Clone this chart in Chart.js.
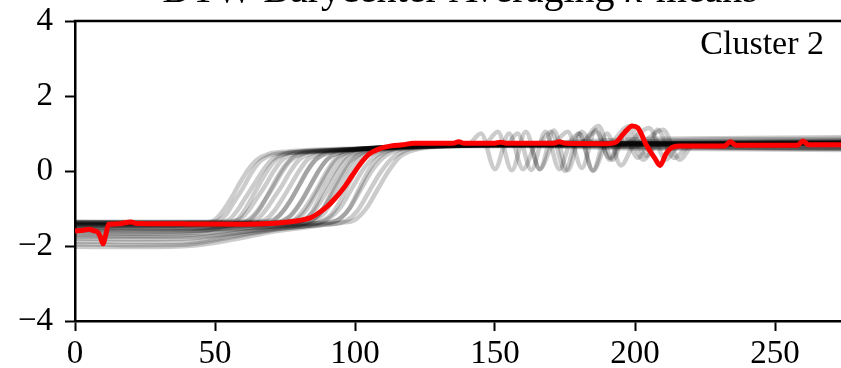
<!DOCTYPE html>
<html><head><meta charset="utf-8">
<script src="https://cdn.jsdelivr.net/npm/chart.js@4/dist/chart.umd.min.js"></script>
<style>
html,body{margin:0;padding:0;background:#fff;overflow:hidden;width:841px;height:368px;}
#wrap{position:absolute;left:0;top:-30px;width:880px;height:400px;}
</style></head><body>
<div id="wrap"><canvas id="c" width="880" height="400"></canvas></div>
<script>
// ---- texts ----
const titleParts = [["DTW Barycenter Averaging ", false], ["k", true], ["-means", false]];
const clusterLabel = "Cluster 2";
// ---- tick labels ----
const xTicks = [0, 50, 100, 150, 200, 250];
const yTicks = [-4, -2, 0, 2, 4];
const xRange = [0, 275];
const yRange = [-4, 4];
// ---- member series (x, y) ----
const g01 = [[0,-1.38],[20,-1.40],[40,-1.37],[50,-1.35],[54,-1.15],[57,-0.8],[60,-0.45],[63,-0.05],[66,0.25],[70,0.42],[75,0.48],[90,0.55],[110,0.63],[130,0.68],[160,0.72],[200,0.74],[240,0.76],[274,0.78]];
const g02 = [[0,-1.42],[25,-1.43],[48,-1.40],[55,-1.30],[58,-1.05],[61,-0.7],[64,-0.35],[67,0.0],[70,0.28],[74,0.44],[80,0.5],[100,0.58],[120,0.65],[150,0.7],[190,0.73],[230,0.72],[274,0.74]];
const g03 = [[0,-1.36],[30,-1.38],[52,-1.37],[59,-1.28],[62,-1.05],[65,-0.72],[68,-0.38],[71,0.0],[74,0.3],[78,0.46],[85,0.52],[105,0.6],[125,0.67],[146,0.7],[151,1.05],[156,0.02],[161,1.05],[166,0.05],[171,0.7],[200,0.74],[240,0.72],[274,0.75]];
const g04 = [[0,-1.45],[30,-1.46],[55,-1.42],[62,-1.30],[65,-1.08],[68,-0.75],[71,-0.4],[74,-0.02],[77,0.28],[81,0.45],[88,0.52],[110,0.6],[130,0.66],[160,0.7],[200,0.66],[240,0.63],[274,0.62]];
const g05 = [[0,-1.40],[35,-1.42],[58,-1.40],[65,-1.30],[68,-1.05],[71,-0.72],[74,-0.38],[77,0.0],[80,0.3],[84,0.46],[92,0.54],[115,0.63],[140,0.7],[154,0.7],[158,1.0],[163,0.03],[168,1.05],[173,0.05],[177,0.7],[210,0.75],[250,0.78],[274,0.8]];
const g06 = [[0,-1.50],[30,-1.52],[50,-1.50],[62,-1.40],[68,-1.30],[71,-1.08],[74,-0.75],[77,-0.38],[80,0.0],[83,0.3],[87,0.46],[95,0.55],[120,0.65],[150,0.72],[190,0.74],[230,0.74],[274,0.76]];
const g07 = [[0,-1.38],[30,-1.37],[60,-1.38],[70,-1.32],[74,-1.1],[77,-0.78],[80,-0.4],[83,0.0],[86,0.3],[90,0.47],[98,0.56],[120,0.66],[150,0.7],[162,0.72],[166,0.05],[171,1.08],[176,0.02],[181,1.05],[185,0.7],[220,0.72],[274,0.74]];
const g08 = [[0,-1.60],[20,-1.62],[40,-1.60],[60,-1.48],[72,-1.38],[77,-1.2],[81,-0.8],[84,-0.4],[87,0.0],[90,0.3],[94,0.48],[102,0.58],[125,0.67],[160,0.72],[200,0.74],[240,0.73],[274,0.75]];
const g09 = [[0,-1.42],[40,-1.42],[70,-1.40],[78,-1.32],[81,-1.1],[84,-0.78],[87,-0.4],[90,0.0],[93,0.32],[97,0.5],[105,0.6],[130,0.68],[170,0.7],[176,1.05],[181,0.08],[186,1.1],[191,0.3],[195,0.7],[230,0.72],[274,0.73]];
const g10 = [[0,-1.70],[20,-1.72],[40,-1.70],[60,-1.55],[76,-1.42],[82,-1.3],[85,-1.05],[88,-0.6],[91,-0.2],[94,0.15],[97,0.4],[102,0.55],[115,0.64],[140,0.7],[180,0.72],[220,0.75],[274,0.77]];
const g11 = [[0,-1.36],[40,-1.38],[75,-1.38],[82,-1.3],[85,-1.1],[88,-0.78],[91,-0.4],[94,0.0],[97,0.32],[101,0.5],[110,0.62],[135,0.7],[180,0.7],[187,1.2],[192,0.3],[197,1.1],[203,0.3],[208,0.7],[240,0.74],[274,0.76]];
const g12 = [[0,-1.80],[20,-1.82],[40,-1.80],[55,-1.68],[70,-1.52],[82,-1.40],[87,-1.18],[90,-0.85],[93,-0.45],[96,-0.05],[99,0.28],[103,0.48],[112,0.6],[135,0.68],[170,0.7],[210,0.72],[274,0.74]];
const g13 = [[0,-1.45],[40,-1.44],[78,-1.42],[85,-1.35],[89,-1.12],[92,-0.8],[95,-0.42],[98,-0.02],[101,0.3],[105,0.5],[114,0.62],[140,0.7],[190,0.7],[198,1.2],[204,0.4],[208,1.1],[214,0.35],[220,0.7],[250,0.72],[274,0.74]];
const g14 = [[0,-1.95],[20,-1.98],[38,-1.97],[55,-1.78],[70,-1.58],[85,-1.42],[91,-1.25],[95,-0.95],[99,-0.45],[103,0.05],[107,0.38],[112,0.55],[122,0.64],[150,0.7],[190,0.72],[230,0.74],[274,0.76]];
const g15 = [[0,-1.88],[25,-1.90],[42,-1.88],[58,-1.7],[75,-1.52],[88,-1.42],[94,-1.3],[98,-1.0],[102,-0.5],[106,0.0],[110,0.35],[115,0.55],[125,0.64],[150,0.68],[196,0.7],[205,1.15],[211,0.3],[216,0.7],[250,0.73],[274,0.75]];
const g16 = [[0,-2.02],[20,-2.03],[40,-2.0],[55,-1.85],[72,-1.6],[88,-1.45],[97,-1.32],[101,-1.05],[105,-0.55],[109,-0.05],[113,0.32],[118,0.55],[128,0.65],[160,0.7],[200,0.74],[240,0.76],[274,0.78]];
const g17 = [[0,-1.40],[40,-1.40],[72,-1.38],[76,-1.25],[79,-1.0],[82,-0.65],[85,-0.25],[88,0.12],[91,0.38],[96,0.52],[110,0.62],[140,0.7],[200,0.64],[274,0.6]];
const g18 = [[0,-1.55],[30,-1.56],[50,-1.55],[70,-1.48],[86,-1.40],[91,-1.2],[94,-0.9],[97,-0.45],[100,-0.02],[103,0.3],[108,0.52],[118,0.62],[145,0.68],[185,0.7],[230,0.7],[274,0.72]];
const g19 = [[0,-1.65],[25,-1.67],[40,-1.65],[52,-1.5],[58,-1.3],[61,-1.0],[64,-0.6],[67,-0.2],[70,0.15],[73,0.38],[78,0.5],[95,0.57],[120,0.65],[150,0.7],[180,0.7],[186,1.05],[191,0.35],[196,1.0],[201,0.35],[206,0.7],[240,0.73],[274,0.74]];
const g20 = [[0,-1.36],[40,-1.35],[74,-1.36],[80,-1.25],[83,-1.0],[86,-0.62],[89,-0.22],[92,0.15],[95,0.4],[100,0.55],[115,0.65],[145,0.72],[200,0.78],[240,0.8],[274,0.82]];
const g21 = [[0,-1.44],[30,-1.45],[46,-1.42],[50,-1.3],[53,-1.05],[56,-0.7],[59,-0.3],[62,0.05],[65,0.3],[69,0.45],[76,0.52],[100,0.6],[130,0.66],[175,0.68],[180,1.0],[185,0.02],[190,1.0],[195,0.15],[200,0.7],[240,0.62],[274,0.6]];
const g22 = [[0,-1.75],[30,-1.76],[45,-1.74],[60,-1.62],[80,-1.48],[95,-1.38],[100,-1.3],[104,-1.0],[108,-0.5],[112,0.0],[116,0.38],[121,0.56],[132,0.66],[160,0.72],[200,0.85],[240,0.88],[274,0.9]];
const g23 = [[0,-1.48],[40,-1.47],[65,-1.45],[71,-1.33],[74,-1.1],[77,-0.78],[80,-0.38],[83,0.02],[86,0.32],[90,0.48],[100,0.58],[130,0.66],[140,0.68],[145,1.0],[150,0.05],[155,1.0],[160,0.05],[165,0.7],[210,0.62],[274,0.6]];
const g24 = [[0,-1.58],[30,-1.6],[50,-1.58],[70,-1.48],[82,-1.4],[86,-1.25],[89,-0.95],[92,-0.5],[95,-0.1],[98,0.25],[102,0.48],[110,0.6],[140,0.68],[200,0.66],[210,1.1],[216,0.3],[221,0.7],[274,0.65]];
const g25 = [[0,-1.52],[30,-1.54],[48,-1.52],[58,-1.42],[63,-1.28],[66,-1.02],[69,-0.62],[72,-0.2],[75,0.15],[78,0.38],[83,0.5],[100,0.58],[130,0.68],[165,0.7],[170,1.05],[175,0.0],[180,1.0],[185,0.0],[190,0.7],[240,0.85],[274,0.86]];
const g26 = [[0,-1.38],[40,-1.38],[80,-1.4],[90,-1.38],[95,-1.25],[98,-1.0],[101,-0.55],[104,-0.1],[107,0.25],[111,0.5],[120,0.62],[150,0.68],[200,0.6],[240,0.58],[274,0.56]];
// ---- barycenter (red) ----
const barycenter = [[0,-1.6],[3,-1.58],[5,-1.55],[7,-1.6],[8,-1.62],[9,-1.75],[10,-1.94],[11,-1.7],[12,-1.42],[15,-1.41],[20,-1.36],[22,-1.4],[40,-1.41],[60,-1.42],[70,-1.4],[76,-1.36],[80,-1.32],[84,-1.25],[87,-1.12],[90,-0.95],[93,-0.72],[96,-0.45],[99,-0.12],[102,0.2],[105,0.45],[109,0.6],[113,0.67],[117,0.7],[121,0.74],[135,0.74],[137,0.78],[139,0.74],[150,0.74],[152,0.77],[154,0.74],[171,0.74],[173,0.78],[175,0.74],[190,0.73],[193,0.76],[196,1.0],[199,1.2],[201,1.15],[204,0.7],[207,0.35],[209,0.15],[211,0.45],[213,0.62],[216,0.67],[232,0.67],[234,0.78],[236,0.69],[258,0.69],[260,0.8],[262,0.7],[274,0.7]];

const members = [g01,g02,g03,g04,g05,g06,g07,g08,g09,g10,g11,g12,g13,g14,g15,g16,g17,g18,g19,g20,g21,g22,g23,g24,g25,g26];

const FONT = '"Liberation Serif", "DejaVu Serif", serif';
const toPts = arr => arr.map(p => ({x: p[0], y: p[1]}));

const datasets = [{
  data: toPts(barycenter), borderColor: '#ff0000', borderWidth: 5,
  pointRadius: 0, cubicInterpolationMode: 'monotone', order: 0
}].concat(members.map(m => ({
  data: toPts(m), borderColor: 'rgba(0,0,0,0.2)', borderWidth: 4.5,
  pointRadius: 0, cubicInterpolationMode: 'monotone', order: 1
})));

const fmt = v => v < 0 ? '\u2212' + Math.abs(v) : String(v);

const decor = {
  id: 'decor',
  afterDraw(chart) {
    const {ctx, chartArea: a} = chart;
    ctx.save();
    // top spine
    ctx.strokeStyle = '#000'; ctx.lineWidth = 2.5;
    ctx.beginPath(); ctx.moveTo(a.left - 1.25, a.top); ctx.lineTo(a.right + 2, a.top); ctx.stroke();
    ctx.beginPath(); ctx.moveTo(a.right, a.top); ctx.lineTo(a.right, a.bottom); ctx.stroke();
    // title
    ctx.fillStyle = '#000'; ctx.textBaseline = 'alphabetic';
    const fonts = titleParts.map(p => (p[1] ? 'italic ' : '') + '40px ' + FONT);
    let total = 0;
    titleParts.forEach((p, i) => { ctx.font = fonts[i]; total += ctx.measureText(p[0]).width; });
    let x = (a.left + a.right) / 2 - total / 2;
    titleParts.forEach((p, i) => { ctx.font = fonts[i]; ctx.textAlign = 'left'; ctx.fillText(p[0], x, a.top - 19); x += ctx.measureText(p[0]).width; });
    // cluster label
    ctx.font = '34px ' + FONT; ctx.textAlign = 'right';
    ctx.fillText(clusterLabel, 824, a.top + 33);
    ctx.restore();
  }
};

new Chart(document.getElementById('c'), {
  type: 'line',
  data: {datasets},
  options: {
    responsive: false, animation: false, devicePixelRatio: 1,
    layout: {padding: {left: 0, top: 51, right: 35, bottom: 0}},
    plugins: {legend: {display: false}, tooltip: {enabled: false}, title: {display: false}},
    scales: {
      x: {
        type: 'linear', min: xRange[0], max: xRange[1],
        afterBuildTicks: ax => { ax.ticks = xTicks.map(v => ({value: v})); },
        afterFit: ax => { ax.height = 49; },
        ticks: {color: '#000', font: {family: FONT, size: 33}, padding: 4, maxRotation: 0, autoSkip: false, callback: v => fmt(v)},
        grid: {display: true, drawOnChartArea: false, drawTicks: true, tickLength: 10, tickWidth: 2, tickColor: '#000'},
        border: {display: true, color: '#000', width: 2.5}
      },
      y: {
        type: 'linear', min: yRange[0], max: yRange[1],
        afterBuildTicks: ax => { ax.ticks = yTicks.map(v => ({value: v})); },
        afterFit: ax => { ax.width = 75; },
        ticks: {color: '#000', font: {family: FONT, size: 33}, padding: 12, autoSkip: false, callback: v => fmt(v)},
        grid: {display: true, drawOnChartArea: false, drawTicks: true, tickLength: 10, tickWidth: 2, tickColor: '#000'},
        border: {display: true, color: '#000', width: 2.5}
      }
    }
  },
  plugins: [decor]
});
</script>
</body></html>
